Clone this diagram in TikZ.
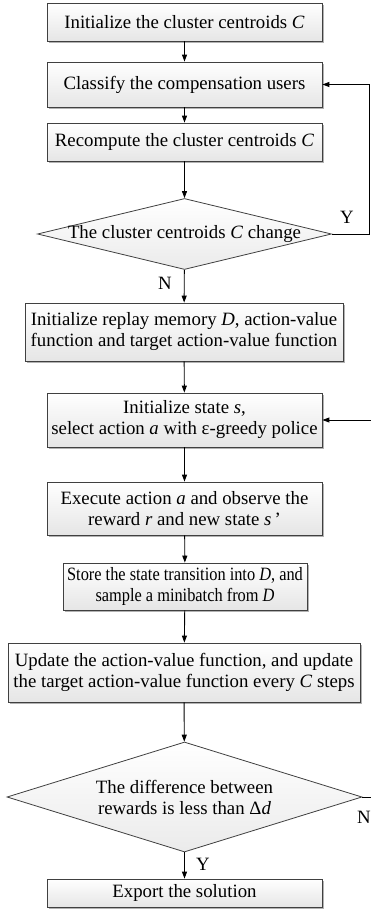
\documentclass[tikz,border=0pt]{standalone}
\usepackage{fontspec}
\setmainfont{Liberation Serif}
\newfontfamily\narrowserif[FakeStretch=0.87]{Liberation Serif}
\usetikzlibrary{arrows.meta,shapes.geometric,shadows}

\newcommand{\flowfont}{\fontsize{18.8pt}{21pt}\selectfont}

\tikzset{
  procbox/.style={rectangle, draw=black!75, line width=0.8pt, inner sep=0pt,
    shading=axis, top color=white, bottom color=black!10,
    drop shadow={shadow xshift=2pt, shadow yshift=-2pt, fill=black!30, opacity=1},
    font=\flowfont, align=center},
  decision/.style={diamond, draw=black!75, line width=0.8pt, inner sep=0pt,
    shading=axis, top color=white, bottom color=black!8},
  dtext/.style={font=\flowfont, align=center, inner sep=0pt},
  yn/.style={font=\flowfont, inner sep=0pt},
  arr/.style={draw=black, line width=0.9pt, -{Triangle[length=7pt,width=5pt]}},
}

\begin{document}
\begin{tikzpicture}[x=1pt,y=-1pt]
\useasboundingbox (0,0) rectangle (371,909);
\fill[white] (0,0) rectangle (371,909);

% clustering stage
\node[procbox, minimum width=275, minimum height=38] (init) at (184.5,22)
  {Initialize the cluster centroids \textit{C}};
\node[procbox, minimum width=275, minimum height=45] (classify) at (184.5,84.5)
  {Classify the compensation users};
\node[procbox, minimum width=275, minimum height=38] (recomp) at (184.5,142)
  {Recompute the cluster centroids \textit{C}};
\node[decision, minimum width=294, minimum height=71] (chg) at (184.5,234) {};
\node[dtext] (chgtxt) at (chg) {The cluster centroids \textit{C} change};

% learning stage
\node[procbox, minimum width=318, minimum height=58] (mem) at (184,332)
  {Initialize replay memory \textit{D}, action-value\\function and target action-value function};
\node[procbox, minimum width=275, minimum height=54] (state) at (184.5,420)
  {Initialize state \textit{s},\\select action \textit{a} with ε-greedy police};
\node[procbox, minimum width=275, minimum height=53] (exec) at (184.5,508.5)
  {Execute action \textit{a} and observe the\\reward \textit{r} and new state \textit{s}\,’};
\node[procbox, minimum width=244, minimum height=47, font=\flowfont\narrowserif] (store) at (185,586.5)
  {Store the state transition into \textit{D}, and\\sample a minibatch from \textit{D}};
\node[procbox, minimum width=352, minimum height=59] (update) at (184,672.5)
  {Update the action-value function, and update\\the target action-value function every \textit{C} steps};
\node[decision, minimum width=355, minimum height=110] (diff) at (184.5,797) {};
\node[dtext] (difftxt) at (diff) {The difference between\\rewards is less than Δ\textit{d}};
\node[procbox, minimum width=275, minimum height=28] (export) at (184.5,893)
  {Export the solution};

% main flow
\draw[arr] (init) -- (classify);
\draw[arr] (classify) -- (recomp);
\draw[arr] (recomp) -- (chg);
\draw[arr] (chg) -- (mem);
\draw[arr] (mem) -- (state);
\draw[arr] (state) -- (exec);
\draw[arr] (exec) -- (store);
\draw[arr] (store) -- (update);
\draw[arr] (update) -- (diff);
\draw[arr] (diff) -- (export);

% feedback loops
\draw[arr] (chg.east) -- ++(38,0) |- (classify.east);
\draw[arr] (diff.east) -- ++(25,0) |- (state.east);

% branch labels
\node[yn] (ylab1) at (347,217) {Y};
\node[yn] (nlab1) at (165,283) {N};
\node[yn] (nlab2) at (364,817) {N};
\node[yn] (ylab2) at (203,864) {Y};
\end{tikzpicture}
\end{document}
